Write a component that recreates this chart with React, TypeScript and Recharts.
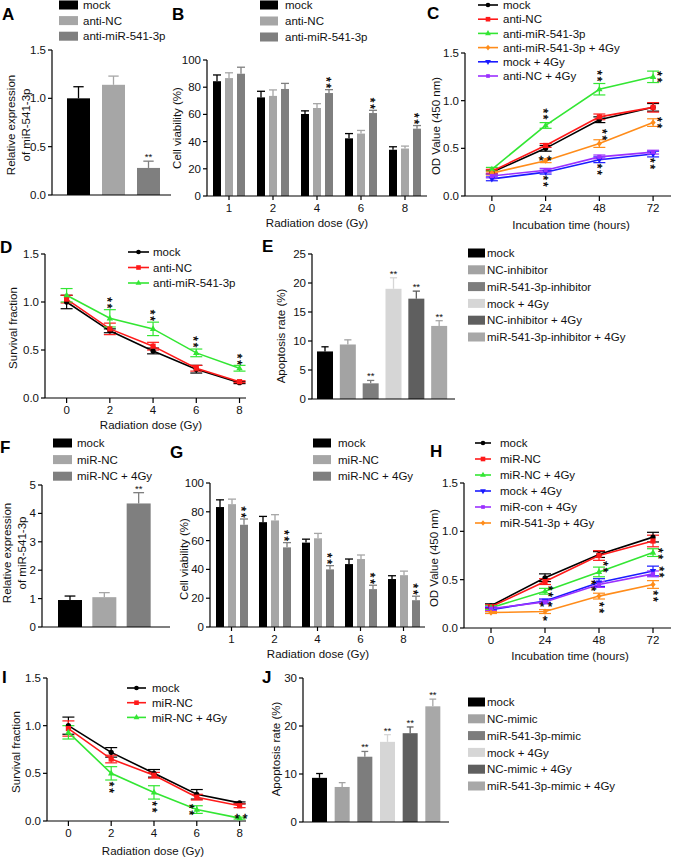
import React from 'react';
import { BarChart, Bar, LineChart, Line, XAxis, YAxis, ErrorBar } from 'recharts';

const FONT = '"Liberation Sans", Arial, Helvetica, sans-serif';

// ---------- data ----------
// A
const aGroups = ['mock', 'anti-NC', 'anti-miR-541-3p'];
const aValues = [1.0, 1.14, 0.28];
const aErrors = [0.12, 0.09, 0.07];
const aSig = ['', '', '**'];

// B
const bDoses = ['1', '2', '4', '6', '8'];
const bMock = [84.4, 72.5, 60.3, 42.4, 34];
const bMockErr = [4.6, 4.5, 2.3, 3.5, 2.2];
const bAntiNC = [86.7, 73.6, 64.7, 45.9, 34.9];
const bAntiNCErr = [3.9, 4.4, 3.2, 2.3, 1.8];
const bAntiMiR = [89.9, 78.7, 75.7, 61, 49.5];
const bAntiMiRErr = [4.8, 4.1, 2.5, 2, 2.3];
const bSig = ['', '', '**', '**', '**'];

// C
const cTimes = [0, 24, 48, 72];
const cMock = [0.25, 0.5, 0.8, 0.93];
const cMockErr = [0.02, 0.03, 0.03, 0.04];
const cAntiNC = [0.26, 0.53, 0.83, 0.93];
const cAntiNCErr = [0.02, 0.02, 0.03, 0.05];
const cAntiMiR = [0.28, 0.74, 1.12, 1.25];
const cAntiMiRErr = [0.02, 0.03, 0.06, 0.06];
const cAntiMiR4 = [0.24, 0.37, 0.55, 0.77];
const cAntiMiR4Err = [0.02, 0.02, 0.04, 0.04];
const cMock4 = [0.18, 0.25, 0.38, 0.44];
const cMock4Err = [0.02, 0.02, 0.03, 0.03];
const cAntiNC4 = [0.21, 0.27, 0.41, 0.46];
const cAntiNC4Err = [0.02, 0.02, 0.02, 0.02];

// D
const dDoses = [0, 2, 4, 6, 8];
const dMock = [1.0, 0.7, 0.49, 0.3, 0.16];
const dMockErr = [0.07, 0.02, 0.03, 0.04, 0.01];
const dAntiNC = [1.03, 0.72, 0.54, 0.31, 0.17];
const dAntiNCErr = [0.04, 0.06, 0.04, 0.03, 0.01];
const dAntiMiR = [1.07, 0.83, 0.72, 0.47, 0.31];
const dAntiMiRErr = [0.07, 0.09, 0.07, 0.04, 0.03];

// E
const eGroups = ['mock', 'NC-inhibitor', 'miR-541-3p-inhibitor', 'mock + 4Gy', 'NC-inhibitor + 4Gy', 'miR-541-3p-inhibitor + 4Gy'];
const eValues = [8.2, 9.4, 2.7, 19.0, 17.3, 12.6];
const eErrors = [0.8, 0.8, 0.5, 1.9, 1.3, 0.9];
const eSig = ['', '', '**', '**', '**', '**'];

// F
const fGroups = ['mock', 'miR-NC', 'miR-NC + 4Gy'];
const fValues = [0.95, 1.05, 4.35];
const fErrors = [0.14, 0.16, 0.38];
const fSig = ['', '', '**'];

// G
const gDoses = ['1', '2', '4', '6', '8'];
const gMock = [83.3, 72.8, 58.6, 43.7, 33.3];
const gMockErr = [5, 4, 2.4, 3.5, 2.3];
const gMiRNC = [85.3, 74, 61.6, 47.2, 36];
const gMiRNCErr = [3.5, 4, 3.4, 2.8, 2.8];
const gMiRNC4 = [71, 55.3, 40, 26.3, 18.6];
const gMiRNC4Err = [4, 3.3, 2.6, 2.7, 2.8];
const gSig = ['**', '**', '**', '**', '**'];

// H
const hTimes = [0, 24, 48, 72];
const hMock = [0.23, 0.52, 0.76, 0.94];
const hMockErr = [0.02, 0.04, 0.03, 0.05];
const hMiRNC = [0.22, 0.48, 0.75, 0.9];
const hMiRNCErr = [0.02, 0.03, 0.05, 0.06];
const hMiRNC4 = [0.21, 0.38, 0.58, 0.78];
const hMiRNC4Err = [0.02, 0.03, 0.05, 0.04];
const hMock4 = [0.19, 0.28, 0.47, 0.59];
const hMock4Err = [0.02, 0.02, 0.04, 0.05];
const hMiRCon4 = [0.2, 0.27, 0.45, 0.56];
const hMiRCon4Err = [0.02, 0.02, 0.03, 0.03];
const hMiR4 = [0.16, 0.17, 0.33, 0.45];
const hMiR4Err = [0.01, 0.02, 0.03, 0.04];

// I
const iDoses = [0, 2, 4, 6, 8];
const iMock = [1.0, 0.72, 0.5, 0.28, 0.19];
const iMockErr = [0.09, 0.05, 0.04, 0.05, 0.01];
const iMiRNC = [0.97, 0.65, 0.48, 0.25, 0.16];
const iMiRNCErr = [0.08, 0.04, 0.03, 0.03, 0.02];
const iMiRNC4 = [0.93, 0.5, 0.3, 0.12, 0.03];
const iMiRNC4Err = [0.07, 0.07, 0.07, 0.04, 0.01];

// J
const jGroups = ['mock', 'NC-mimic', 'miR-541-3p-mimic', 'mock + 4Gy', 'NC-mimic + 4Gy', 'miR-541-3p-mimic + 4Gy'];
const jValues = [9.2, 7.3, 13.6, 16.7, 18.5, 24.1];
const jErrors = [0.9, 0.9, 1.1, 1.5, 1.3, 1.5];
const jSig = ['', '', '**', '**', '**', '**'];

// ---------- styling ----------
const THREE = ['#000000', '#a6a6a6', '#7f7f7f'];
const SIX = ['#000000', '#a3a3a3', '#7d7d7d', '#d6d6d6', '#5f5f5f', '#a8a8a8'];
const GREEN = '#33e633';
const RED = '#ff1a1a';
const ORANGE = '#ff8c1a';
const BLUE = '#1a1aff';
const PURPLE = '#9b30ff';

const f1 = (v: number) => v.toFixed(1);
const AX = { stroke: '#000', strokeWidth: 1.2 };
const TICK = { fontSize: 11.5, fill: '#111' };

type Box = { x0: number; y0: number; x1: number; y1: number; yw: number; xh: number };

function frame(b: Box, mt = 14, mr = 14) {
  return {
    wrap: { position: 'absolute' as const, left: b.x0 - b.yw, top: b.y0 - mt },
    chart: {
      width: b.x1 - b.x0 + b.yw + mr,
      height: b.y1 - b.y0 + mt + b.xh,
      margin: { top: mt, right: mr, bottom: 0, left: 0 },
    },
  };
}

// significance mark centred on (x, y): 'v' = two stacked stars, 'h' = "* *", 's' = one star
function StarMark({ x, y, t }: { x: number; y: number; t: string }) {
  if (t === 'v')
    return (
      <text transform={`translate(${x},${y}) rotate(90)`} x={0.9} y={6.8} textAnchor="middle" fontSize={12}
        letterSpacing={1.8} fill="#000" stroke="#000" strokeWidth={0.35}>**</text>
    );
  return (
    <text x={x} y={y + 6.8} textAnchor="middle" fontSize={12} fill="#000" stroke="#000" strokeWidth={0.35}>
      {t === 'h' ? '* *' : '*'}
    </text>
  );
}

function ErrBarShape(props: any) {
  const { x, y, width, height, fill, err, val, sig, stack } = props;
  if (!height || height <= 0 || !val) return <g />;
  const k = height / val;
  const top = y - err * k;
  const cx = x + width / 2;
  const cap = width > 12 ? width * 0.45 : width;
  return (
    <g>
      <rect x={x} y={y} width={width} height={height} fill={fill} />
      <line x1={cx} y1={y} x2={cx} y2={top} stroke={fill} strokeWidth={1.3} />
      <line x1={cx - cap / 2} y1={top} x2={cx + cap / 2} y2={top} stroke={fill} strokeWidth={1.3} />
      {sig && stack && <StarMark x={cx} y={top - 7} t="v" />}
      {sig && !stack && (
        <text x={cx} y={top - 1} fontSize={9.5} textAnchor="middle" fill="#111">
          {sig}
        </text>
      )}
    </g>
  );
}

function Marker({ cx, cy, kind, color, s = 2.6 }: any) {
  if (kind === 'circle') return <circle cx={cx} cy={cy} r={s} fill={color} />;
  if (kind === 'square') return <rect x={cx - s} y={cy - s} width={2 * s} height={2 * s} fill={color} />;
  if (kind === 'up')
    return <polygon points={`${cx},${cy - s - 1} ${cx - s - 0.6},${cy + s * 0.8} ${cx + s + 0.6},${cy + s * 0.8}`} fill={color} />;
  if (kind === 'down')
    return <polygon points={`${cx},${cy + s + 1} ${cx - s - 0.6},${cy - s * 0.8} ${cx + s + 0.6},${cy - s * 0.8}`} fill={color} />;
  if (kind === 'diamond')
    return <polygon points={`${cx},${cy - s - 0.5} ${cx + s},${cy} ${cx},${cy + s + 0.5} ${cx - s},${cy}`} fill={color} />;
  return <rect x={cx - s * 0.8} y={cy - s * 0.8} width={1.6 * s} height={1.6 * s} fill={color} />;
}

type Mark = [string, number, number] | null;
type Series = { key: string; name: string; color: string; kind: string; vals: number[]; errs: number[]; stars?: Mark[] };

function rows(xs: number[], xKey: string, series: Series[]) {
  return xs.map((x, i) => {
    const r: any = { [xKey]: x };
    series.forEach((s) => {
      r[s.key] = s.vals[i];
      r[s.key + 'E'] = s.errs[i];
    });
    return r;
  });
}

function renderLines(series: Series[]) {
  return series.map((s) => (
    <Line
      key={s.key}
      dataKey={s.key}
      stroke={s.color}
      strokeWidth={1.6}
      isAnimationActive={false}
      activeDot={false}
      dot={(p: any) => {
        const m = s.stars ? s.stars[p.index] : null;
        return (
          <g key={`${s.key}-${p.index}`}>
            <Marker cx={p.cx} cy={p.cy} kind={s.kind} color={s.color} />
            {m && <StarMark x={p.cx + m[1]} y={p.cy + m[2]} t={m[0]} />}
          </g>
        );
      }}
    >
      <ErrorBar dataKey={s.key + 'E'} width={6} strokeWidth={1.2} stroke={s.color} direction="y" />
    </Line>
  ));
}

// ---------- series tables ----------
const cSeries: Series[] = [
  { key: 'mock', name: 'mock', color: '#000', kind: 'circle', vals: cMock, errs: cMockErr },
  { key: 'antiNC', name: 'anti-NC', color: RED, kind: 'square', vals: cAntiNC, errs: cAntiNCErr },
  { key: 'antiMiR', name: 'anti-miR-541-3p', color: GREEN, kind: 'up', vals: cAntiMiR, errs: cAntiMiRErr,
    stars: [null, ['v', 0, -11.5], ['v', 0, -13.5], ['v', 7, 0]] },
  { key: 'antiMiR4', name: 'anti-miR-541-3p + 4Gy', color: ORANGE, kind: 'diamond', vals: cAntiMiR4, errs: cAntiMiR4Err,
    stars: [null, ['h', -0.5, -3], ['v', 5, -9], ['v', 7, 0]] },
  { key: 'mock4', name: 'mock + 4Gy', color: BLUE, kind: 'down', vals: cMock4, errs: cMock4Err,
    stars: [null, ['v', 0, 9], ['v', 0, 9.5], ['v', 0, 9.5]] },
  { key: 'antiNC4', name: 'anti-NC + 4Gy', color: PURPLE, kind: 'small', vals: cAntiNC4, errs: cAntiNC4Err },
];

const dSeries: Series[] = [
  { key: 'mock', name: 'mock', color: '#000', kind: 'circle', vals: dMock, errs: dMockErr },
  { key: 'antiNC', name: 'anti-NC', color: RED, kind: 'square', vals: dAntiNC, errs: dAntiNCErr },
  { key: 'antiMiR', name: 'anti-miR-541-3p', color: GREEN, kind: 'up', vals: dAntiMiR, errs: dAntiMiRErr,
    stars: [null, ['v', 0, -15.5], ['v', 0, -13.5], ['v', 0, -11], ['v', 0, -9]] },
];

const hSeries: Series[] = [
  { key: 'mock', name: 'mock', color: '#000', kind: 'circle', vals: hMock, errs: hMockErr },
  { key: 'miRNC', name: 'miR-NC', color: RED, kind: 'square', vals: hMiRNC, errs: hMiRNCErr },
  { key: 'miRNC4', name: 'miR-NC + 4Gy', color: GREEN, kind: 'up', vals: hMiRNC4, errs: hMiRNC4Err,
    stars: [null, ['v', 6, 0], ['v', 7, -5], ['v', 8, 1]] },
  { key: 'mock4', name: 'mock + 4Gy', color: BLUE, kind: 'down', vals: hMock4, errs: hMock4Err,
    stars: [null, ['h', 1, 3.5], ['v', -5, 3], ['v', 9, 1]] },
  { key: 'miRCon4', name: 'miR-con + 4Gy', color: PURPLE, kind: 'small', vals: hMiRCon4, errs: hMiRCon4Err },
  { key: 'miR4', name: 'miR-541-3p + 4Gy', color: ORANGE, kind: 'diamond', vals: hMiR4, errs: hMiR4Err,
    stars: [null, ['s', 0, 7], ['v', 3, 11.5], ['v', 3, 11.5]] },
];

const iSeries: Series[] = [
  { key: 'mock', name: 'mock', color: '#000', kind: 'circle', vals: iMock, errs: iMockErr },
  { key: 'miRNC', name: 'miR-NC', color: RED, kind: 'square', vals: iMiRNC, errs: iMiRNCErr },
  { key: 'miRNC4', name: 'miR-NC + 4Gy', color: GREEN, kind: 'up', vals: iMiRNC4, errs: iMiRNC4Err,
    stars: [null, ['v', 1, 14], ['v', 1, 14.5], ['v', -5, 0], ['h', 1.5, -2]] },
];

const single = (names: string[], vals: number[], errs: number[], sig: string[], colors: string[]) =>
  names.map((name, i) => ({ name, value: vals[i], err: errs[i], sig: sig[i], color: colors[i] }));

const aData = single(aGroups, aValues, aErrors, aSig, THREE);
const eData = single(eGroups, eValues, eErrors, eSig, SIX);
const fData = single(fGroups, fValues, fErrors, fSig, THREE);
const jData = single(jGroups, jValues, jErrors, jSig, SIX);

const bData = bDoses.map((d, i) => ({
  d, mock: bMock[i], mockE: bMockErr[i], nc: bAntiNC[i], ncE: bAntiNCErr[i], mir: bAntiMiR[i], mirE: bAntiMiRErr[i], sig: bSig[i],
}));
const gData = gDoses.map((d, i) => ({
  d, mock: gMock[i], mockE: gMockErr[i], nc: gMiRNC[i], ncE: gMiRNCErr[i], mir: gMiRNC4[i], mirE: gMiRNC4Err[i], sig: gSig[i],
}));

// ---------- chart pieces ----------
function SingleBars({ box, data, max, ticks, fmt, barSize, pad }: any) {
  const f = frame(box);
  return (
    <div style={f.wrap}>
      <BarChart {...f.chart} data={data}>
        <XAxis dataKey="name" tick={false} tickLine={false} axisLine={AX} height={box.xh} padding={pad} />
        <YAxis width={box.yw} domain={[0, max]} ticks={ticks} tickFormatter={fmt} axisLine={AX} tickLine={AX}
          tickSize={4} tickMargin={2} tick={TICK} interval={0} />
        <Bar dataKey="value" barSize={barSize} isAnimationActive={false}
          shape={(p: any) => <ErrBarShape {...p} fill={p.payload.color} err={p.payload.err} val={p.payload.value} sig={p.payload.sig} />} />
      </BarChart>
    </div>
  );
}

function GroupBars({ box, data }: any) {
  const f = frame(box);
  const keys = ['mock', 'nc', 'mir'];
  return (
    <div style={f.wrap}>
      <BarChart {...f.chart} data={data} barGap={4}>
        <XAxis dataKey="d" axisLine={AX} tickLine={AX} tickSize={4} tickMargin={4} tick={TICK} height={box.xh} interval={0} />
        <YAxis width={box.yw} domain={[0, 100]} ticks={[0, 20, 40, 60, 80, 100]} axisLine={AX} tickLine={AX}
          tickSize={4} tickMargin={2} tick={TICK} interval={0} />
        {keys.map((k, j) => (
          <Bar key={k} dataKey={k} barSize={8} isAnimationActive={false}
            shape={(p: any) => (
              <ErrBarShape {...p} fill={THREE[j]} err={p.payload[k + 'E']} val={p.payload[k]}
                sig={j === 2 ? p.payload.sig : ''} stack />
            )} />
        ))}
      </BarChart>
    </div>
  );
}

function Lines({ box, xs, series, domain, xticks }: any) {
  const f = frame(box);
  return (
    <div style={f.wrap}>
      <LineChart {...f.chart} data={rows(xs, 'x', series)}>
        <XAxis type="number" dataKey="x" domain={domain} ticks={xticks} axisLine={AX} tickLine={AX}
          tickSize={5} tickMargin={3} tick={TICK} height={box.xh} interval={0} />
        <YAxis width={box.yw} domain={[0, 1.5]} ticks={[0, 0.5, 1, 1.5]} tickFormatter={f1} axisLine={AX} tickLine={AX}
          tickSize={4} tickMargin={2} tick={TICK} interval={0} />
        {renderLines(series)}
      </LineChart>
    </div>
  );
}

// ---------- overlay text ----------
function BarLegend({ x, y, step, names, colors, w, tx }: any) {
  return (
    <g>
      {names.map((n: string, i: number) => (
        <g key={n}>
          <rect x={x} y={y + i * step - 4.5} width={w} height={9} fill={colors[i]} />
          <text x={tx} y={y + i * step + 4.1} fontSize={11.5} fill="#111">{n}</text>
        </g>
      ))}
    </g>
  );
}

function LineLegend({ x, y, step, series, w, tx }: any) {
  return (
    <g>
      {series.map((s: Series, i: number) => (
        <g key={s.key}>
          <line x1={x} y1={y + i * step} x2={x + w} y2={y + i * step} stroke={s.color} strokeWidth={1.6} />
          <Marker cx={x + w / 2} cy={y + i * step} kind={s.kind} color={s.color} s={2.3} />
          <text x={tx} y={y + i * step + 4.1} fontSize={11.5} fill="#111">{s.name}</text>
        </g>
      ))}
    </g>
  );
}

function YTitle({ x, y, lines }: { x: number; y: number; lines: string[] }) {
  return (
    <g>
      {lines.map((l, i) => (
        <text key={i} transform={`translate(${x + i * 15},${y}) rotate(-90)`} textAnchor="middle" dominantBaseline="central"
          fontSize={11.5} fill="#111">{l}</text>
      ))}
    </g>
  );
}

function XTitle({ x, y, text }: { x: number; y: number; text: string }) {
  return <text x={x} y={y + 4} textAnchor="middle" fontSize={11.5} fill="#111">{text}</text>;
}

function Letter({ x, y, t }: { x: number; y: number; t: string }) {
  return <text x={x} y={y} fontSize={17} fontWeight="bold" fill="#000">{t}</text>;
}

export default function App() {
  return (
    <div style={{ position: 'absolute', left: 0, top: 0, width: 685, height: 859, background: '#fff', fontFamily: FONT, overflow: 'hidden' }}>
      <SingleBars box={{ x0: 52, y0: 50, x1: 171, y1: 195, yw: 30, xh: 9 }} data={aData} max={1.5}
        ticks={[0, 0.5, 1, 1.5]} fmt={f1} barSize={23} pad={{ left: 9, right: 5 }} />
      <GroupBars box={{ x0: 207, y0: 60, x1: 427, y1: 196, yw: 30, xh: 20 }} data={bData} />
      <Lines box={{ x0: 465, y0: 53, x1: 671, y1: 196, yw: 30, xh: 22 }} xs={cTimes} series={cSeries}
        domain={[-12, 80]} xticks={[0, 24, 48, 72]} />
      <Lines box={{ x0: 45, y0: 254, x1: 246, y1: 398, yw: 30, xh: 20 }} xs={dDoses} series={dSeries}
        domain={[-1, 8.3]} xticks={[0, 2, 4, 6, 8]} />
      <SingleBars box={{ x0: 312, y0: 254, x1: 455, y1: 399, yw: 30, xh: 9 }} data={eData} max={25}
        ticks={[0, 5, 10, 15, 20, 25]} barSize={16} pad={{ left: 2, right: 4 }} />
      <SingleBars box={{ x0: 42, y0: 485, x1: 170, y1: 627, yw: 30, xh: 9 }} data={fData} max={5}
        ticks={[0, 1, 2, 3, 4, 5]} barSize={24} pad={{ left: 11, right: 14 }} />
      <GroupBars box={{ x0: 210, y0: 483, x1: 425, y1: 627, yw: 30, xh: 20 }} data={gData} />
      <Lines box={{ x0: 464, y0: 483, x1: 671, y1: 628, yw: 30, xh: 22 }} xs={hTimes} series={hSeries}
        domain={[-12, 80]} xticks={[0, 24, 48, 72]} />
      <Lines box={{ x0: 47, y0: 678, x1: 246, y1: 821, yw: 30, xh: 20 }} xs={iDoses} series={iSeries}
        domain={[-1, 8.3]} xticks={[0, 2, 4, 6, 8]} />
      <SingleBars box={{ x0: 303, y0: 678, x1: 449, y1: 822, yw: 30, xh: 9 }} data={jData} max={30}
        ticks={[0, 10, 20, 30]} barSize={15} pad={{ left: 5, right: 5 }} />

      <svg width={685} height={859} style={{ position: 'absolute', left: 0, top: 0, pointerEvents: 'none' }}>
        <Letter x={2} y={20} t="A" />
        <Letter x={172} y={20} t="B" />
        <Letter x={427} y={19} t="C" />
        <Letter x={0} y={253} t="D" />
        <Letter x={262} y={252} t="E" />
        <Letter x={0} y={453} t="F" />
        <Letter x={170} y={458} t="G" />
        <Letter x={430} y={457} t="H" />
        <Letter x={2} y={683} t="I" />
        <Letter x={262} y={683} t="J" />

        <YTitle x={11} y={125} lines={['Relative expression', 'of miR-541-3p']} />
        <YTitle x={177} y={128} lines={['Cell viability (%)']} />
        <YTitle x={436} y={126} lines={['OD Value (450 nm)']} />
        <YTitle x={13} y={328} lines={['Survival fraction']} />
        <YTitle x={281} y={336} lines={['Apoptosis rate (%)']} />
        <YTitle x={7} y={553} lines={['Relative expression', 'of miR-541-3p']} />
        <YTitle x={184} y={559} lines={['Cell viability (%)']} />
        <YTitle x={434} y={558} lines={['OD Value (450 nm)']} />
        <YTitle x={16} y={752} lines={['Survival fraction']} />
        <YTitle x={276} y={749} lines={['Apoptosis rate (%)']} />

        <XTitle x={317} y={223} text="Radiation dose (Gy)" />
        <XTitle x={571} y={225} text="Incubation time (hours)" />
        <XTitle x={151} y={425} text="Radiation dose (Gy)" />
        <XTitle x={318} y={654} text="Radiation dose (Gy)" />
        <XTitle x={570} y={656} text="Incubation time (hours)" />
        <XTitle x={153} y={851} text="Radiation dose (Gy)" />

        <BarLegend x={59} y={5} step={15.6} names={aGroups} colors={THREE} w={19} tx={83} />
        <BarLegend x={260} y={5} step={16} names={aGroups} colors={THREE} w={18} tx={285} />
        <LineLegend x={478} y={5} step={14.2} series={cSeries} w={20} tx={503} />
        <LineLegend x={128} y={252} step={15.5} series={dSeries} w={21} tx={153} />
        <BarLegend x={468} y={253} step={16.8} names={eGroups} colors={SIX} w={17} tx={487} />
        <BarLegend x={53} y={443} step={16.6} names={fGroups} colors={THREE} w={19} tx={77} />
        <BarLegend x={313} y={443} step={16.6} names={fGroups} colors={THREE} w={18} tx={338} />
        <LineLegend x={475} y={443} step={16} series={hSeries} w={16} tx={500} />
        <LineLegend x={127} y={688} step={14.7} series={iSeries} w={19} tx={152} />
        <BarLegend x={468} y={702} step={16.8} names={jGroups} colors={SIX} w={17} tx={487} />
      </svg>
    </div>
  );
}
